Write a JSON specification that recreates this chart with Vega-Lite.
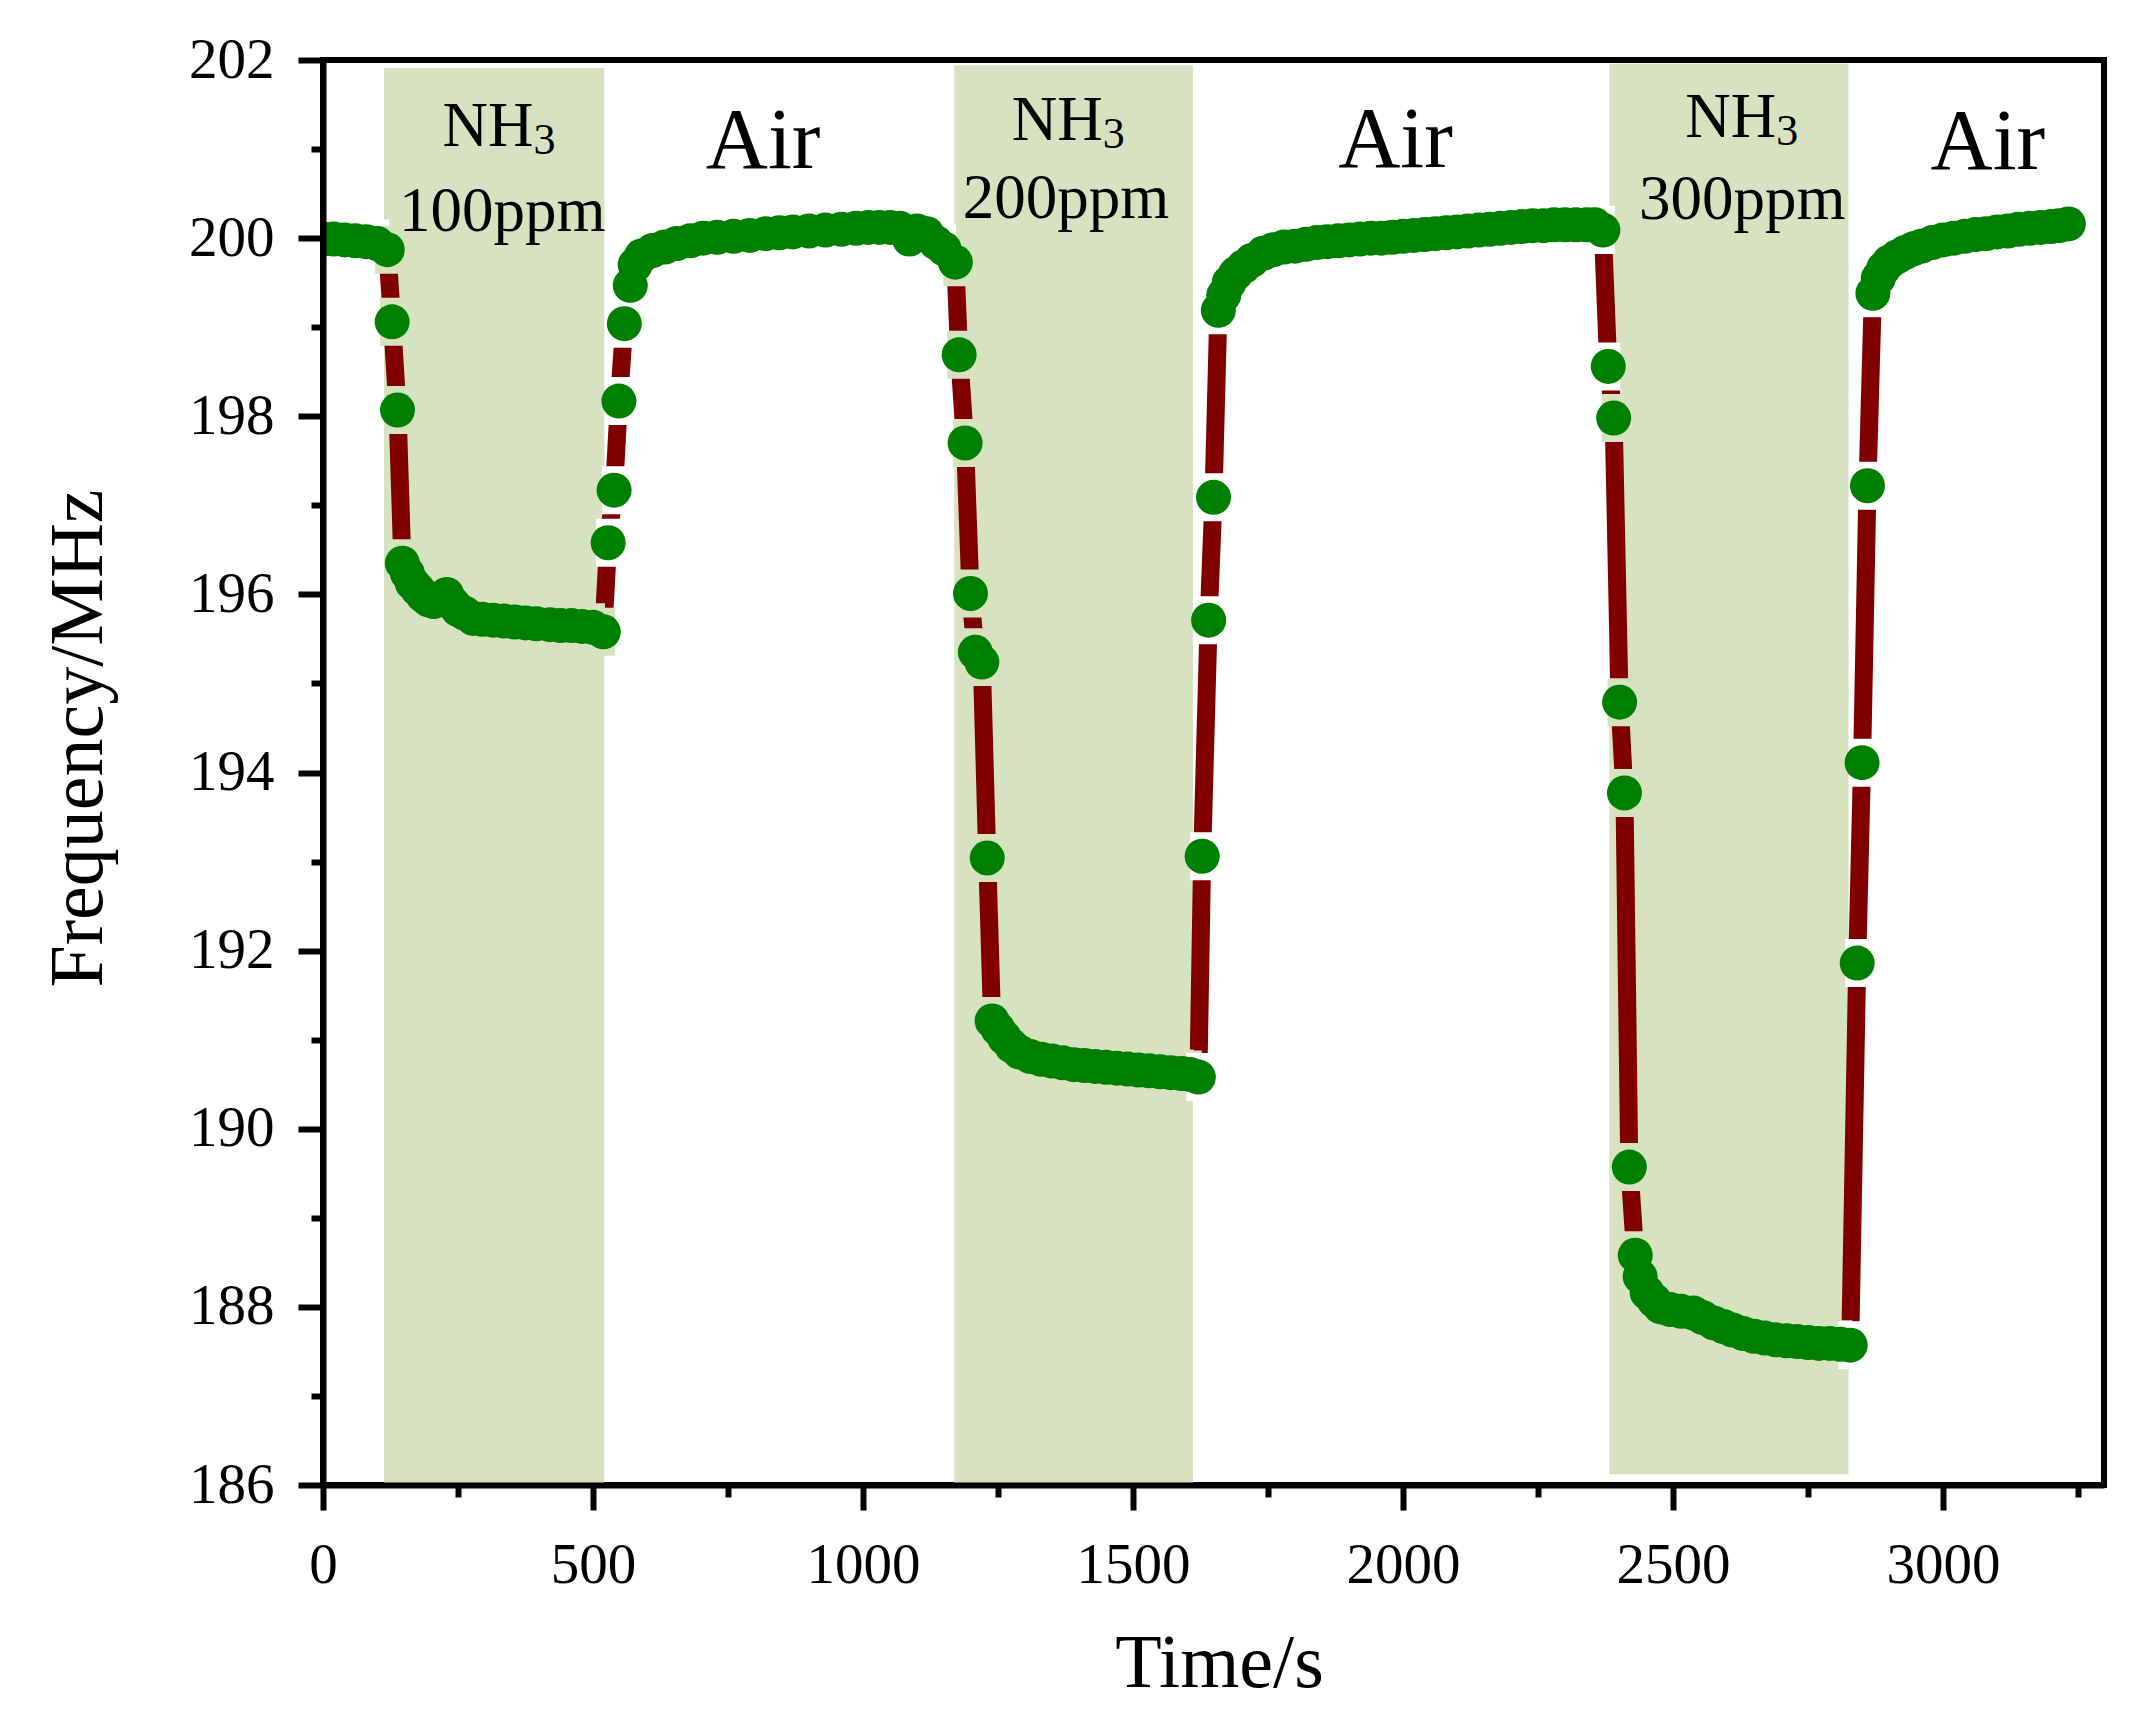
{
  "$schema": "https://vega.github.io/schema/vega-lite/v6.json",
  "width": 1781,
  "height": 1425,
  "autosize": {"type": "none"},
  "padding": {"left": 323, "top": 60, "right": 40, "bottom": 234},
  "background": "white",
  "config": {
    "view": {"stroke": "black", "strokeWidth": 6},
    "axis": {"grid": false, "labelFont": "Liberation Serif", "titleFont": "Liberation Serif", "labelColor": "black", "titleColor": "black", "domainColor": "black", "tickColor": "black"}
  },
  "datasets": {
    "pts": [
      {"t":0,"f":199.99},{"t":20,"f":199.99},{"t":40,"f":199.98},{"t":60,"f":199.97},{"t":80,"f":199.96},{"t":100,"f":199.94},{"t":119,"f":199.87},
      {"t":128,"f":199.06},{"t":138,"f":198.07},{"t":147,"f":196.35},{"t":156,"f":196.24},{"t":165,"f":196.13},{"t":175,"f":196.06},{"t":185,"f":195.99},{"t":195,"f":195.94},{"t":205,"f":195.92},{"t":215,"f":195.95},{"t":229,"f":196.0},{"t":240,"f":195.9},{"t":250,"f":195.83},{"t":262,"f":195.79},{"t":278,"f":195.73},{"t":295,"f":195.72},{"t":315,"f":195.71},{"t":335,"f":195.7},{"t":355,"f":195.69},{"t":375,"f":195.68},{"t":395,"f":195.67},{"t":420,"f":195.66},{"t":440,"f":195.65},{"t":460,"f":195.65},{"t":480,"f":195.64},{"t":500,"f":195.63},{"t":519,"f":195.58},
      {"t":528,"f":196.58},{"t":539,"f":197.17},{"t":548,"f":198.17},{"t":558,"f":199.04},{"t":569,"f":199.47},{"t":578,"f":199.7},{"t":590,"f":199.8},{"t":610,"f":199.86},{"t":633,"f":199.9},{"t":655,"f":199.94},{"t":680,"f":199.97},{"t":704,"f":200.0},{"t":730,"f":200.01},{"t":760,"f":200.02},{"t":790,"f":200.03},{"t":820,"f":200.05},{"t":845,"f":200.06},{"t":870,"f":200.07},{"t":900,"f":200.08},{"t":930,"f":200.09},{"t":960,"f":200.1},{"t":987,"f":200.11},{"t":1010,"f":200.12},{"t":1030,"f":200.12},{"t":1050,"f":200.12},{"t":1068,"f":200.11},{"t":1086,"f":199.99},{"t":1100,"f":200.08},{"t":1118,"f":200.05},{"t":1135,"f":199.95},{"t":1150,"f":199.88},{"t":1171,"f":199.73},
      {"t":1178,"f":198.69},{"t":1189,"f":197.7},{"t":1199,"f":196.01},{"t":1208,"f":195.35},{"t":1220,"f":195.24},{"t":1230,"f":193.04},{"t":1239,"f":191.21},{"t":1250,"f":191.12},{"t":1262,"f":191.02},{"t":1275,"f":190.93},{"t":1290,"f":190.86},{"t":1310,"f":190.81},{"t":1330,"f":190.78},{"t":1350,"f":190.76},{"t":1370,"f":190.74},{"t":1390,"f":190.72},{"t":1410,"f":190.71},{"t":1430,"f":190.7},{"t":1450,"f":190.69},{"t":1470,"f":190.68},{"t":1490,"f":190.67},{"t":1510,"f":190.66},{"t":1530,"f":190.65},{"t":1550,"f":190.64},{"t":1570,"f":190.63},{"t":1590,"f":190.62},{"t":1605,"f":190.61},{"t":1621,"f":190.58},
      {"t":1628,"f":193.06},{"t":1640,"f":195.71},{"t":1649,"f":197.09},{"t":1658,"f":199.19},{"t":1668,"f":199.36},{"t":1678,"f":199.5},{"t":1690,"f":199.6},{"t":1705,"f":199.68},{"t":1720,"f":199.75},{"t":1741,"f":199.83},{"t":1760,"f":199.87},{"t":1780,"f":199.9},{"t":1800,"f":199.91},{"t":1820,"f":199.93},{"t":1840,"f":199.95},{"t":1860,"f":199.96},{"t":1880,"f":199.97},{"t":1900,"f":199.98},{"t":1920,"f":199.99},{"t":1940,"f":200.0},{"t":1960,"f":200.0},{"t":1980,"f":200.01},{"t":2000,"f":200.02},{"t":2020,"f":200.03},{"t":2040,"f":200.04},{"t":2060,"f":200.05},{"t":2080,"f":200.06},{"t":2100,"f":200.07},{"t":2120,"f":200.08},{"t":2140,"f":200.09},{"t":2160,"f":200.1},{"t":2180,"f":200.11},{"t":2200,"f":200.12},{"t":2220,"f":200.13},{"t":2240,"f":200.14},{"t":2260,"f":200.14},{"t":2280,"f":200.15},{"t":2300,"f":200.15},{"t":2320,"f":200.15},{"t":2340,"f":200.15},{"t":2355,"f":200.15},{"t":2370,"f":200.09},
      {"t":2380,"f":198.56},{"t":2390,"f":197.98},{"t":2401,"f":194.79},{"t":2410,"f":193.77},{"t":2419,"f":189.57},{"t":2430,"f":188.58},{"t":2439,"f":188.34},{"t":2452,"f":188.16},{"t":2465,"f":188.07},{"t":2477,"f":188.0},{"t":2495,"f":187.97},{"t":2515,"f":187.95},{"t":2538,"f":187.93},{"t":2555,"f":187.88},{"t":2575,"f":187.82},{"t":2593,"f":187.78},{"t":2610,"f":187.74},{"t":2630,"f":187.7},{"t":2650,"f":187.67},{"t":2670,"f":187.65},{"t":2690,"f":187.63},{"t":2710,"f":187.62},{"t":2730,"f":187.61},{"t":2750,"f":187.6},{"t":2770,"f":187.59},{"t":2790,"f":187.59},{"t":2810,"f":187.58},{"t":2828,"f":187.57},
      {"t":2841,"f":191.86},{"t":2850,"f":194.11},{"t":2860,"f":197.22},{"t":2870,"f":199.38},{"t":2880,"f":199.55},{"t":2890,"f":199.66},{"t":2900,"f":199.73},{"t":2915,"f":199.79},{"t":2930,"f":199.84},{"t":2945,"f":199.88},{"t":2960,"f":199.91},{"t":2980,"f":199.95},{"t":3000,"f":199.98},{"t":3020,"f":200.0},{"t":3040,"f":200.02},{"t":3060,"f":200.04},{"t":3080,"f":200.05},{"t":3100,"f":200.07},{"t":3120,"f":200.08},{"t":3140,"f":200.1},{"t":3160,"f":200.11},{"t":3180,"f":200.12},{"t":3200,"f":200.13},{"t":3215,"f":200.14},{"t":3232,"f":200.16}
    ],
    "shade": [
      {"t1":113,"t2":521,"f1":186,"f2":201.91},
      {"t1":1169,"t2":1611,"f1":186,"f2":201.94},
      {"t1":2382,"t2":2825,"f1":186.12,"f2":201.96}
    ],
    "gas": [
      {"t":327,"f":201.03,"label":"NH","sub":"3"},
      {"t":1381,"f":201.1,"label":"NH","sub":"3"},
      {"t":2628,"f":201.14,"label":"NH","sub":"3"}
    ],
    "conc": [
      {"t":332,"f":200.08,"label":"100ppm"},
      {"t":1376,"f":200.23,"label":"200ppm"},
      {"t":2628,"f":200.22,"label":"300ppm"}
    ],
    "air": [
      {"t":815,"f":200.79,"label":"Air"},
      {"t":1986,"f":200.8,"label":"Air"},
      {"t":3083,"f":200.78,"label":"Air"}
    ]
  },
  "resolve": {"axis": {"x": "independent", "y": "independent"}},
  "layer": [
    {
      "data": {"name": "shade"},
      "mark": {"type": "rect", "color": "#d7e3c0", "clip": true},
      "encoding": {
        "x": {"field": "t1", "type": "quantitative",
          "scale": {"domain": [0, 3298], "nice": false, "zero": false},
          "axis": {"orient": "bottom", "values": [0, 500, 1000, 1500, 2000, 2500, 3000], "format": "d",
            "tickSize": 25, "tickWidth": 6, "domainWidth": 6, "labelFontSize": 57, "labelPadding": 27,
            "labelFlush": false, "labelOverlap": false, "labelBound": false,
            "title": "Time/s", "titleFontSize": 76, "titleFontWeight": "normal",
            "titleBaseline": "alphabetic", "titleX": 896, "titleY": 201, "zindex": 1}},
        "x2": {"field": "t2"},
        "y": {"field": "f1", "type": "quantitative",
          "scale": {"domain": [186, 202], "nice": false, "zero": false},
          "axis": {"orient": "left", "values": [186, 188, 190, 192, 194, 196, 198, 200, 202], "format": "d",
            "tickSize": 25, "tickWidth": 6, "domainWidth": 6, "labelFontSize": 57, "labelPadding": 24,
            "labelFlush": false, "labelOverlap": false, "labelBound": false,
            "title": "Frequency/MHz", "titleFontSize": 76, "titleFontWeight": "normal",
            "titleAngle": 270, "titleBaseline": "alphabetic", "titleX": -222, "titleY": 678, "zindex": 1}},
        "y2": {"field": "f2"}
      }
    },
    {
      "data": {"name": "pts"},
      "mark": {"type": "line", "color": "#800000", "strokeWidth": 18, "clip": true},
      "encoding": {
        "x": {"field": "t", "type": "quantitative",
          "axis": {"orient": "bottom", "values": [250, 750, 1250, 1750, 2250, 2750, 3250], "labels": false, "domain": false,
            "tickSize": 12, "tickWidth": 6, "title": null, "zindex": 1}},
        "y": {"field": "f", "type": "quantitative",
          "axis": {"orient": "left", "values": [187, 189, 191, 193, 195, 197, 199, 201], "labels": false, "domain": false,
            "tickSize": 12, "tickWidth": 6, "title": null, "zindex": 1}}
      }
    },
    {
      "data": {"name": "pts"},
      "mark": {"type": "point", "shape": "M-0.5,-1H0.5V1H-0.5Z", "size": 2304, "filled": true, "opacity": 1, "strokeWidth": 0, "clip": true},
      "encoding": {
        "x": {"field": "t", "type": "quantitative", "axis": null},
        "y": {"field": "f", "type": "quantitative", "axis": null},
        "color": {
          "condition": {"test": "(datum.t >= 113 && datum.t <= 521) || (datum.t >= 1169 && datum.t <= 1611) || (datum.t >= 2382 && datum.t <= 2825)", "value": "#d7e3c0"},
          "value": "white"
        }
      }
    },
    {
      "data": {"name": "pts"},
      "mark": {"type": "circle", "size": 1225, "color": "#008000", "opacity": 1, "clip": true},
      "encoding": {
        "x": {"field": "t", "type": "quantitative", "axis": null},
        "y": {"field": "f", "type": "quantitative", "axis": null}
      }
    },
    {
      "data": {"name": "gas"},
      "mark": {"type": "text", "font": "Liberation Serif", "fontSize": 63, "baseline": "alphabetic", "align": "right", "dx": 34, "color": "black"},
      "encoding": {
        "x": {"field": "t", "type": "quantitative", "axis": null},
        "y": {"field": "f", "type": "quantitative", "axis": null},
        "text": {"field": "label"}
      }
    },
    {
      "data": {"name": "gas"},
      "mark": {"type": "text", "font": "Liberation Serif", "fontSize": 44, "baseline": "alphabetic", "align": "left", "dx": 34, "dy": 8, "color": "black"},
      "encoding": {
        "x": {"field": "t", "type": "quantitative", "axis": null},
        "y": {"field": "f", "type": "quantitative", "axis": null},
        "text": {"field": "sub"}
      }
    },
    {
      "data": {"name": "conc"},
      "mark": {"type": "text", "font": "Liberation Serif", "fontSize": 63, "baseline": "alphabetic", "align": "center", "color": "black"},
      "encoding": {
        "x": {"field": "t", "type": "quantitative", "axis": null},
        "y": {"field": "f", "type": "quantitative", "axis": null},
        "text": {"field": "label"}
      }
    },
    {
      "data": {"name": "air"},
      "mark": {"type": "text", "font": "Liberation Serif", "fontSize": 86, "baseline": "alphabetic", "align": "center", "color": "black"},
      "encoding": {
        "x": {"field": "t", "type": "quantitative", "axis": null},
        "y": {"field": "f", "type": "quantitative", "axis": null},
        "text": {"field": "label"}
      }
    }
  ]
}
